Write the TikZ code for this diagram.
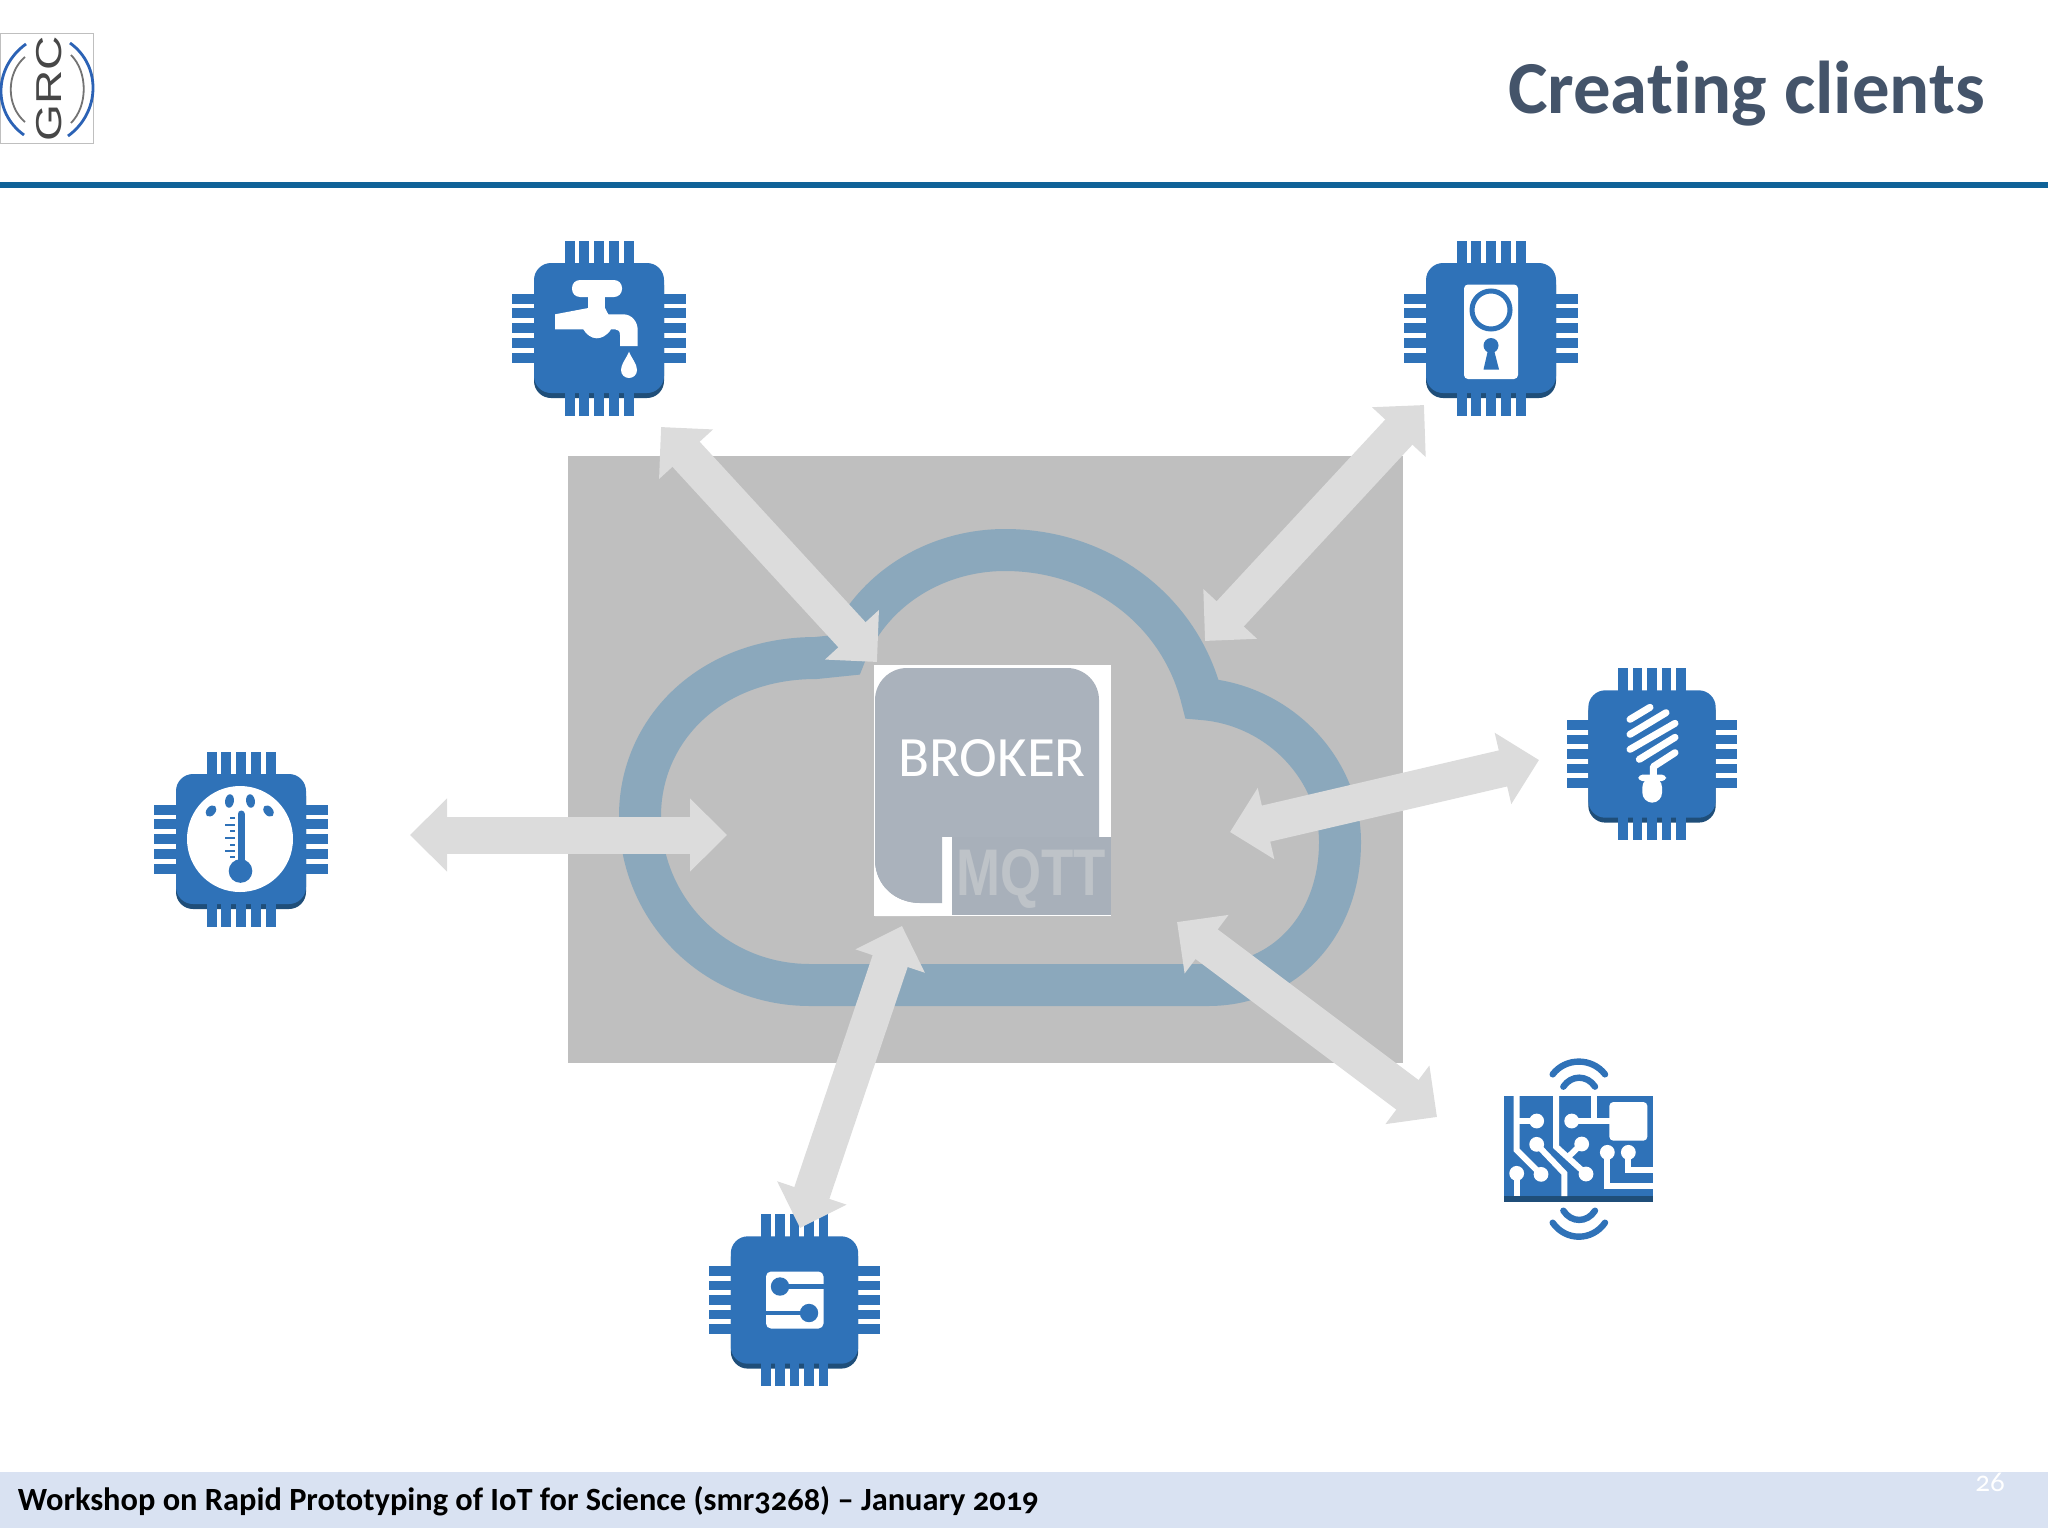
\documentclass[tikz,border=0pt]{standalone}
\usepackage{fontspec}
\setmainfont{Carlito}[Numbers=OldStyle,Ligatures=NoCommon]
\newfontfamily\logofont{Liberation Sans}
\usetikzlibrary{arrows.meta}
\definecolor{chipblue}{HTML}{2F72B8}
\definecolor{chipdark}{HTML}{1F4E79}
\definecolor{rulecol}{HTML}{0F6298}
\definecolor{titlecol}{HTML}{44546A}
\definecolor{bandcol}{HTML}{D9E2F2}
\definecolor{panelcol}{HTML}{BFBFBF}
\definecolor{cloudcol}{HTML}{8BA8BC}
\definecolor{arrowcol}{HTML}{DCDCDC}
\definecolor{brokercol}{HTML}{AAB2BC}
\definecolor{mqttbox}{HTML}{A8B0BA}
\definecolor{mqttcol}{HTML}{BEC3C8}
\definecolor{logoblue}{HTML}{2B62B5}
\tikzset{
  x=0.5pt,y=-0.5pt,
  label text/.style={inner sep=0pt,outer sep=0pt},
  blockarrow/.style={draw=arrowcol,line width=18.5pt,
    {Triangle[length=18.5pt,width=35.5pt,fill=arrowcol]}-{Triangle[length=18.5pt,width=35.5pt,fill=arrowcol]}},
  chip/.pic={
    \fill[chipdark,rounded corners=8.5pt] (-65,-60) rectangle (65,70);
    \foreach \o in {-29.5,-14.75,0,14.75,29.5}{
      \fill[chipblue] (\o-5,-87.5) rectangle (\o+5,-60);
      \fill[chipblue] (\o-5,60) rectangle (\o+5,87.5);
      \fill[chipblue] (-87,\o-5) rectangle (-60,\o+5);
      \fill[chipblue] (60,\o-5) rectangle (87,\o+5);
    }
    \fill[chipblue,rounded corners=8.5pt] (-65,-65) rectangle (65,65);
  },
  tapicon/.pic={
    \fill[white,rounded corners=4pt] (-27,-48) rectangle (23,-31);
    \fill[white] (-11,-32) rectangle (6,-15);
    \fill[white] (-44,-13.7) -- (-10.7,-20) -- (6,-20) -- (9.3,-13.7) -- (24.3,-13.7)
      .. controls (33,-13.7) and (38.7,-6) .. (38.7,2) -- (38.7,18) -- (21,18) -- (21,7)
      .. controls (21,3) and (19,1.3) .. (16,1.3) -- (12,1.3)
      .. controls (8,8) and (2,10.3) .. (-2.3,10.3)
      .. controls (-8,10.3) and (-13,6) .. (-15.7,1.3) -- (-44,1.3) -- cycle;
    \fill[white] (30,23.7) .. controls (33,31) and (38,36) .. (38,42)
      .. controls (38,47) and (34,50) .. (30,50)
      .. controls (26,50) and (22,47) .. (22,42)
      .. controls (22,36) and (27,31) .. (30,23.7) -- cycle;
  },
  keyicon/.pic={
    \fill[white,rounded corners=2pt] (-27,-43.5) rectangle (27,51);
    \draw[chipblue,line width=2.5pt] (0,-18) circle[radius=9.5pt];
    \fill[chipblue] (0,17.5) circle[radius=3.75pt];
    \fill[chipblue] (-3,22) -- (-7.5,41.5) -- (8,41.5) -- (3,22) -- cycle;
  },
  gaugeicon/.pic={
    \fill[white] (-1,0) circle[radius=26.5pt];
    \fill[chipblue] (-30,-28) ellipse[x radius=2.2pt,y radius=3.2pt,rotate=-40];
    \fill[chipblue] (-11.5,-38) ellipse[x radius=2.2pt,y radius=3.4pt,rotate=-8];
    \fill[chipblue] (9.5,-38) ellipse[x radius=2.2pt,y radius=3.4pt,rotate=8];
    \fill[chipblue] (27.5,-28) ellipse[x radius=2.2pt,y radius=3.2pt,rotate=40];
    \draw[chipblue,line width=3.5pt,line cap=round] (0,-25) -- (0,27);
    \fill[chipblue] (-0.5,32) circle[radius=5.9pt];
    \foreach \yy/\xx in {-21/-11,-14/-16,-8/-11,-1/-16,6/-11,12/-16,18/-11}{
      \draw[chipblue,line width=1pt] (\xx,\yy) -- (-6,\yy);
    }
  },
  bulbicon/.pic={
    \begin{scope}[shift={(-42,-64)},x=0.16667pt,y=-0.16667pt]
      \draw[white,line width=3.5pt,line cap=round] (60,88) -- (120,52);
      \draw[white,line width=3.5pt,line cap=round] (60,133) -- (168,68);
      \draw[white,line width=3.5pt,line cap=round] (60,178) -- (195,100);
      \draw[white,line width=3.5pt,line cap=round] (88,208) -- (195,142);
      \draw[white,line width=3.5pt,line cap=round,line join=round] (195,188) -- (130,230) -- (130,260);
      \fill[white,rounded corners=2pt] (85,254) rectangle (168,273);
      \fill[white,rounded corners=5pt] (97,262) rectangle (156,338);
    \end{scope}
  },
  sensoricon/.pic={
    \fill[white,rounded corners=2.5pt] (-28.5,-28.5) rectangle (29,28.5);
    \draw[chipblue,line width=2.2pt] (-14.5,-13.5) -- (29,-13.5);
    \draw[chipblue,line width=2.2pt] (14.5,13) -- (-28.5,13);
    \fill[chipblue] (-14.5,-13.5) circle[radius=4.6pt];
    \fill[chipblue] (14.5,13) circle[radius=4.6pt];
  },
  trace/.style={draw=white,line width=3pt},
  waves/.style={draw=chipblue,line width=3.2pt,line cap=round},
}
\begin{document}
\begin{tikzpicture}
\useasboundingbox (0,0) rectangle (2048,1536);
% logo
\draw[draw=black!25,fill=white,line width=0.5pt] (0,34) rectangle (93,143);
\node[label text,rotate=90,xscale=1.32,text=black!72,font=\logofont\fontsize{18}{18}\selectfont] (grc) at (49,89) {GRC};
\draw[logoblue,line width=1.4pt] (26,44) .. controls (-6,67) and (-8,112) .. (24,135);
\draw[logoblue,line width=1.4pt] (70,43) .. controls (102,66) and (100,113) .. (68,136);
\draw[black!55,line width=0.9pt] (25,57) .. controls (6,73) and (6,106) .. (25,122);
\draw[black!55,line width=0.9pt] (71,55) .. controls (88,72) and (88,106) .. (71,123);
% title
\node[label text,anchor=base east,text=titlecol,font=\bfseries\fontsize{37.4}{37.4}\selectfont] (title) at (1985,113) {Creating clients};
\fill[rulecol] (0,182) rectangle (2048,188);
% panel and cloud
\fill[panelcol] (568,456) rectangle (1403,1063);
\draw[cloudcol,line width=21pt] (810,985) .. controls (715,985) and (640,910) .. (640,816)
  .. controls (640,730) and (710,658) .. (816,658) -- (845,655)
  .. controls (870,590) and (935,550) .. (1005,550)
  .. controls (1100,550) and (1180,610) .. (1202,699)
  .. controls (1280,705) and (1340,770) .. (1340,842)
  .. controls (1340,925) and (1285,985) .. (1208,985) -- cycle;
% broker
\fill[white] (874,665) rectangle (1111,916);
\fill[brokercol,rounded corners=16pt] (875,668) rectangle (1099,903);
\fill[white] (942,837) rectangle (952,916);
\fill[white] (875,903) rectangle (942,916);
\fill[white] (875,860) -- (875,916) -- (920,916) -- (920,903) .. controls (895,903) and (875,885) .. (875,860) -- cycle;
\fill[brokercol] (875,860) .. controls (875,885) and (895,903) .. (920,903) -- (942,903) -- (942,837) -- (875,837) -- cycle;
\fill[mqttbox] (952,837) rectangle (1111,915);
\node[label text,anchor=base,text=white,font=\fontsize{28.5}{28.5}\selectfont] (broker) at (992,776) {BROKER};
\node[label text,anchor=base,xscale=0.8,text=mqttcol,font=\logofont\bfseries\fontsize{33}{33}\selectfont] (mqtt) at (1031,895) {MQTT};
% chips
\pic (tap) at (599,328) {chip};
\pic at (599,328) {tapicon};
\pic (key) at (1491,328) {chip};
\pic at (1491,328) {keyicon};
\pic (gauge) at (241,839) {chip};
\pic at (241,839) {gaugeicon};
\pic[scale=0.98] (bulb) at (1652,754) {chip};
\pic at (1652,754) {bulbicon};
\pic[scale=0.98] (sensor) at (794.5,1300) {chip};
\pic at (794.5,1300) {sensoricon};
% pcb
\begin{scope}[shift={(1480,1040)},x=0.16667pt,y=-0.16667pt]
  \fill[chipblue] (72,168) rectangle (520,470);
  \fill[chipdark] (72,468) rectangle (520,487);
  \draw[trace] (110,168) -- (110,330) -- (183,403);
  \draw[trace] (110,243) -- (170,243);
  \draw[trace] (228,168) -- (228,320) -- (318,402);
  \draw[trace] (260,355) -- (305,312);
  \draw[trace] (275,243) -- (400,243);
  \draw[trace] (342,168) -- (342,243);
  \draw[trace] (170,313) -- (253,400) -- (253,468);
  \draw[trace] (110,400) -- (110,468);
  \draw[trace] (382,337) -- (382,437) -- (520,437);
  \draw[trace] (445,337) -- (445,390) -- (520,390);
  \fill[white,rounded corners=2pt] (388,186) rectangle (502,302);
  \foreach \cx/\cy in {183/403,170/243,318/402,305/312,275/243,170/313,110/400,382/337,445/337}{
    \fill[white] (\cx,\cy) circle[radius=3.7pt];
  }
  \draw[waves] (218,103) .. controls (257,52) and (336,52) .. (375,103);
  \draw[waves] (250,140) .. controls (274,104) and (321,104) .. (345,140);
  \draw[waves] (250,512) .. controls (274,549) and (321,549) .. (345,512);
  \draw[waves] (218,548) .. controls (257,604) and (336,604) .. (375,548);
\end{scope}
% arrows
\coordinate (a1a) at (410,835); \coordinate (a1b) at (727,835);
\coordinate (a2a) at (661,427); \coordinate (a2b) at (877,662);
\coordinate (a3a) at (1424,405); \coordinate (a3b) at (1205,641);
\coordinate (a4a) at (1539,760); \coordinate (a4b) at (1230,832);
\coordinate (a5a) at (1437,1117); \coordinate (a5b) at (1177,922);
\coordinate (a6a) at (800,1228); \coordinate (a6b) at (902,926);
\draw[blockarrow] (a1a) -- (a1b);
\draw[blockarrow] (a2a) -- (a2b);
\draw[blockarrow] (a3a) -- (a3b);
\draw[blockarrow] (a4a) -- (a4b);
\draw[blockarrow] (a5a) -- (a5b);
\draw[blockarrow] (a6a) -- (a6b);
% footer
\fill[bandcol] (0,1472) rectangle (2048,1528);
\node[label text,anchor=base west,text=black,font=\bfseries\fontsize{16.2}{16.2}\selectfont] (foot) at (18,1510) {Workshop on Rapid Prototyping of IoT for Science (smr3268) – January 2019};
\node[label text,anchor=base,text=white,font=\fontsize{14.5}{14.5}\selectfont] (page) at (1990,1491) {26};
\end{tikzpicture}
\end{document}
